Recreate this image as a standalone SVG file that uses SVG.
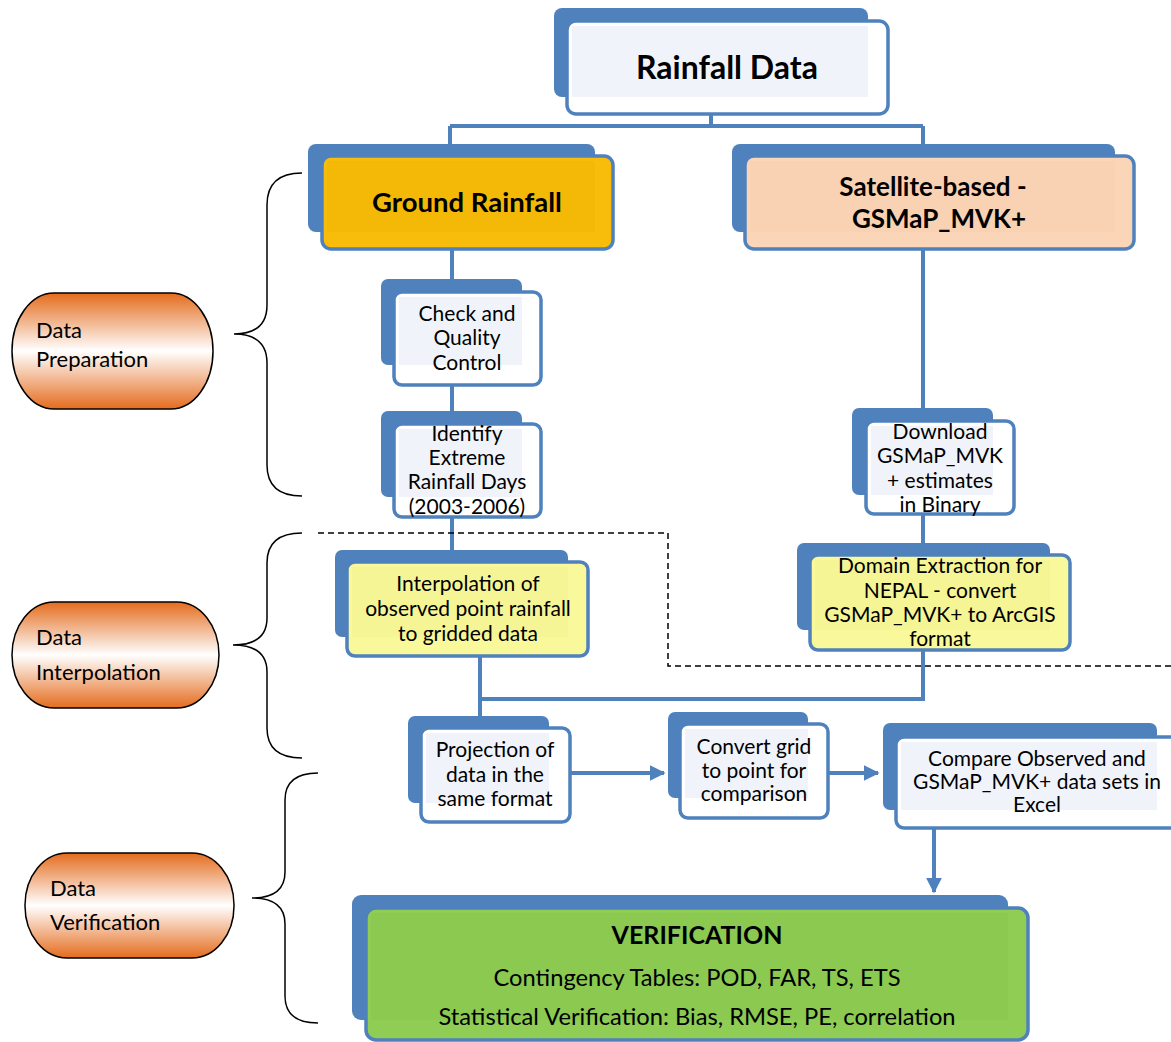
<svg xmlns="http://www.w3.org/2000/svg" width="1171" height="1042" viewBox="0 0 1171 1042">
<defs>
<linearGradient id="og" x1="0" y1="0" x2="0" y2="1">
<stop offset="0" stop-color="#E46C1E"/>
<stop offset="0.5" stop-color="#FFFFFF"/>
<stop offset="1" stop-color="#E46C1E"/>
</linearGradient>
<marker id="ah" viewBox="0 0 10 10" refX="9" refY="5" markerWidth="4" markerHeight="4" orient="auto" markerUnits="strokeWidth">
<path d="M0,0 L10,5 L0,10 z" fill="#4F81BD"/>
</marker>
</defs>
<style>
.back{fill:#4F81BD;}
.front{stroke:#4F81BD;stroke-width:3.5;fill:#FFFFFF;}
.pat{fill:#F0F4FA;}
.conn{stroke:#4F81BD;stroke-width:4;fill:none;}
.dash{stroke:#000;stroke-width:1.5;fill:none;stroke-dasharray:6,4;}
.brace{stroke:#000;stroke-width:1.5;fill:none;}
.stad{fill:url(#og);stroke:#000;stroke-width:1.5;}
.t{font-family:Lato,"Liberation Sans",sans-serif;font-size:21px;fill:#000;text-anchor:middle;}
.tv{font-family:Lato,"Liberation Sans",sans-serif;font-size:23.7px;fill:#000;text-anchor:middle;}
.tb{font-family:Lato,"Liberation Sans",sans-serif;font-weight:bold;fill:#000;text-anchor:middle;}
.tl{font-family:Lato,"Liberation Sans",sans-serif;font-size:22px;fill:#000;}
</style>

<g id="connectors">
<path class="conn" d="M711,114 V126 M450,126 H923 M450,126 V146 M923,126 V146"/>
<path class="conn" d="M452,249 V281 M452,385 V413 M452,517 V550"/>
<path class="conn" d="M923,249 V410 M923,514 V545"/>
<path class="conn" d="M480,656 V718 M480,699 H923 V650"/>
<line class="conn" x1="570" y1="773" x2="664" y2="773" marker-end="url(#ah)"/>
<line class="conn" x1="828" y1="773" x2="878" y2="773" marker-end="url(#ah)"/>
<line class="conn" x1="934" y1="828" x2="934" y2="892" marker-end="url(#ah)"/>
</g>

<g id="dashed-boundary">
<path class="dash" d="M318,533 H668 V666 H1171"/>
</g>

<g id="braces">
<path class="brace" d="M302,173 Q267,173 267,205 L267,305 Q267,334 234,334 Q267,334 267,363 L267,465 Q267,496 302,496"/>
<path class="brace" d="M302,533 Q267,533 267,563 L267,618 Q267,645 233,645 Q267,645 267,672 L267,728 Q267,758 302,758"/>
<path class="brace" d="M318,773 Q285,773 285,800 L285,872 Q285,898 252,898 Q285,898 285,924 L285,996 Q285,1023 318,1023"/>
</g>

<g id="data-preparation">
<rect class="stad" x="12" y="293" width="201" height="116" rx="42" ry="58"/>
<text class="tl" x="36" y="338">Data</text>
<text class="tl" x="36" y="367">Preparation</text>
</g>
<g id="data-interpolation">
<rect class="stad" x="12" y="602" width="207" height="106" rx="42" ry="53"/>
<text class="tl" x="36" y="645">Data</text>
<text class="tl" x="36" y="680">Interpolation</text>
</g>
<g id="data-verification">
<rect class="stad" x="25" y="853" width="209" height="105" rx="42" ry="52"/>
<text class="tl" x="50" y="896">Data</text>
<text class="tl" x="50" y="930">Verification</text>
</g>

<g id="rainfall-data">
<rect class="back" x="554" y="8" width="314" height="89" rx="8"/>
<rect class="front" x="567" y="21" width="321" height="93" rx="9"/>
<rect class="pat" x="572" y="26" width="296" height="71"/>
<text class="tb" x="727" y="79" font-size="32">Rainfall Data</text>
</g>

<g id="ground-rainfall">
<rect class="back" x="308" y="144" width="287" height="88" rx="8"/>
<rect class="front" x="322" y="156" width="291" height="93" rx="9" style="fill:#F8BC0A"/>
<rect x="327" y="161" width="268" height="71" fill="#F4B806"/>
<text class="tb" x="467" y="212" font-size="27.5">Ground Rainfall</text>
</g>

<g id="satellite">
<rect class="back" x="732" y="144" width="383" height="88" rx="8"/>
<rect class="front" x="745" y="156" width="389" height="93" rx="9" style="fill:#FBD5B7"/>
<rect x="750" y="161" width="365" height="71" fill="#F9D2B3"/>
<text class="tb" x="933" y="196" font-size="26">Satellite-based -</text>
<text class="tb" x="939" y="228" font-size="26">GSMaP_MVK+</text>
</g>

<g id="check-quality">
<rect class="back" x="381" y="279" width="141" height="86" rx="7"/>
<rect class="front" x="394" y="292" width="147" height="93" rx="8"/>
<rect class="pat" x="399" y="297" width="123" height="68"/>
<text class="t" x="467" y="321">Check and</text>
<text class="t" x="467" y="345">Quality</text>
<text class="t" x="467" y="370">Control</text>
</g>

<g id="identify-extreme">
<rect class="back" x="381" y="411" width="141" height="86" rx="7"/>
<rect class="front" x="394" y="424" width="147" height="93" rx="8"/>
<rect class="pat" x="399" y="429" width="123" height="68"/>
<text class="t" x="467" y="441">Identify</text>
<text class="t" x="467" y="465">Extreme</text>
<text class="t" x="467" y="489">Rainfall Days</text>
<text class="t" x="467" y="514">(2003-2006)</text>
</g>

<g id="download">
<rect class="back" x="852" y="408" width="141" height="87" rx="7"/>
<rect class="front" x="866" y="421" width="148" height="93" rx="8"/>
<rect class="pat" x="871" y="426" width="122" height="69"/>
<text class="t" x="940" y="439">Download</text>
<text class="t" x="940" y="463">GSMaP_MVK</text>
<text class="t" x="940" y="488">+ estimates</text>
<text class="t" x="940" y="512">in Binary</text>
</g>

<g id="domain-extraction">
<rect class="back" x="797" y="543" width="253" height="87" rx="7"/>
<rect class="front" x="810" y="555" width="260" height="95" rx="8" style="fill:#F9F99C"/>
<rect x="815" y="560" width="235" height="70" fill="#F5F596"/>
<text class="t" x="940" y="573">Domain Extraction for</text>
<text class="t" x="940" y="598">NEPAL - convert</text>
<text class="t" x="940" y="622">GSMaP_MVK+ to ArcGIS</text>
<text class="t" x="940" y="646">format</text>
</g>

<g id="interpolation">
<rect class="back" x="335" y="550" width="233" height="87" rx="7"/>
<rect class="front" x="347" y="562" width="241" height="94" rx="8" style="fill:#F9F99C"/>
<rect x="352" y="567" width="216" height="70" fill="#F5F596"/>
<text class="t" x="468" y="591">Interpolation of</text>
<text class="t" x="468" y="616">observed point rainfall</text>
<text class="t" x="468" y="641">to gridded data</text>
</g>

<g id="projection">
<rect class="back" x="408" y="716" width="141" height="87" rx="7"/>
<rect class="front" x="421" y="728" width="149" height="94" rx="8"/>
<rect class="pat" x="426" y="733" width="123" height="70"/>
<text class="t" x="495" y="757">Projection of</text>
<text class="t" x="495" y="782">data in the</text>
<text class="t" x="495" y="806">same format</text>
</g>

<g id="convert-grid">
<rect class="back" x="668" y="712" width="140" height="86" rx="7"/>
<rect class="front" x="680" y="724" width="148" height="94" rx="8"/>
<rect class="pat" x="685" y="729" width="123" height="69"/>
<text class="t" x="754" y="754">Convert grid</text>
<text class="t" x="754" y="778">to point for</text>
<text class="t" x="754" y="801">comparison</text>
</g>

<g id="compare">
<rect class="back" x="883" y="723" width="274" height="87" rx="7"/>
<rect class="front" x="896" y="737" width="285" height="91" rx="8"/>
<rect class="pat" x="901" y="742" width="256" height="68"/>
<text class="t" x="1037" y="766">Compare Observed and</text>
<text class="t" x="1037" y="789">GSMaP_MVK+ data sets in</text>
<text class="t" x="1037" y="812">Excel</text>
</g>

<g id="verification">
<rect class="back" x="352" y="895" width="656" height="125" rx="9"/>
<rect class="front" x="366" y="908" width="662" height="132" rx="10" style="fill:#8FCD55"/>
<rect x="371" y="913" width="637" height="107" fill="#8BC951"/>
<text class="tb" x="697" y="944" font-size="25">VERIFICATION</text>
<text class="tv" x="697" y="986">Contingency Tables: POD, FAR, TS, ETS</text>
<text class="tv" x="697" y="1025">Statistical Verification: Bias, RMSE, PE, correlation</text>
</g>
</svg>
